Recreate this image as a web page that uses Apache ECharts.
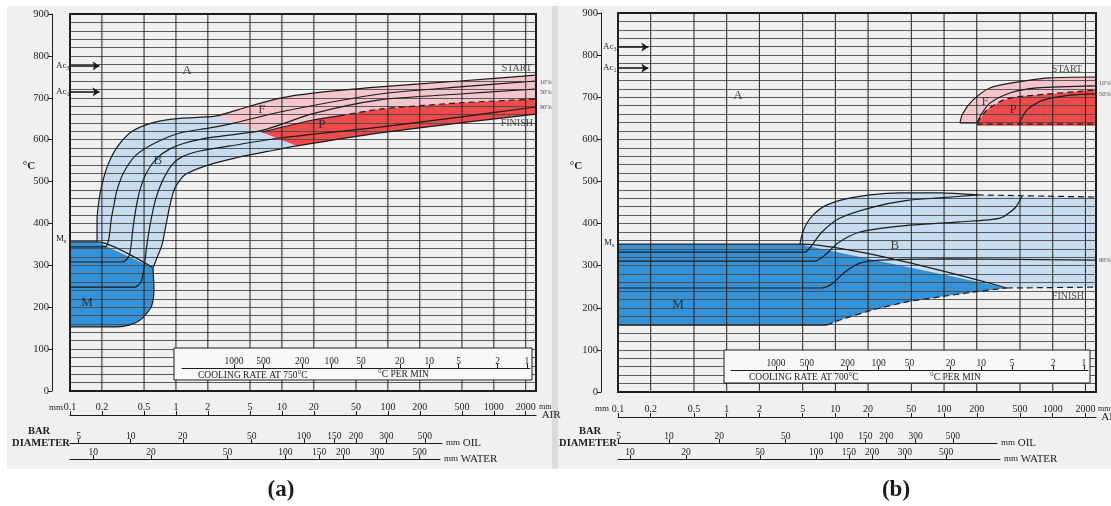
<!DOCTYPE html>
<html><head><meta charset="utf-8">
<script src="https://cdn.jsdelivr.net/npm/echarts@6/dist/echarts.min.js"></script>
<style>html,body{margin:0;padding:0;background:#fff}#c{width:1111px;height:506px}</style>
</head><body><div id="c"></div>
<script>
// ---------------- DATA ----------------
// bar diameter (mm, air-cooled equivalent) on x, temperature (°C) on y
const airTicks   = [0.1,0.2,0.5,1,2,5,10,20,50,100,200,500,1000,2000];
const gridXVals  = [0.2,0.5,1,2,5,10,20,50,100,200,500,1000,2000];
const oilTicks   = [5,10,20,50,100,150,200,300,500];
const waterTicks = [10,20,50,100,150,200,300,500];
const coolTicks  = [1000,500,200,100,50,20,10,5,2,1];

// ----- panel (a) -----
const acA = [776, 714];                 // Ac3, Ac1
const startA  = [[0.18,356],[0.18,408],[0.188,456],[0.2,492],[0.228,540],[0.284,585],[0.393,621],[0.634,642],[1.09,651],[2.33,656],[4.68,678],[9.57,699],[19.6,711],[84,726],[477,740],[2500,754]];
const tenA    = [[0.1,344],[0.215,344],[0.232,362],[0.245,410],[0.26,444],[0.278,480],[0.323,523],[0.42,563],[0.634,592],[1.09,616],[2.09,628],[3.6,640],[9.57,666],[84,709],[477,726],[2500,740]];
const fiftyA  = [[0.1,308],[0.315,308],[0.36,322],[0.376,345],[0.393,389],[0.42,437],[0.457,480],[0.532,523],[0.662,556],[0.878,578],[1.216,592],[2.23,606],[6.47,622],[19.6,662],[84,695],[477,709],[2500,721]];
const ninetyA = [[0.1,248],[0.41,248],[0.468,260],[0.499,294],[0.532,349],[0.581,408],[0.648,461],[0.754,504],[0.917,540],[1.139,559],[1.68,573],[3.23,585],[9.57,604],[84,630],[477,654],[2500,678]];
const finishA = [[0.607,294],[0.662,318],[0.738,349],[0.805,396],[0.878,444],[0.979,485],[1.216,516],[1.88,537],[3.6,556],[7.7,573],[13.9,585],[84,616],[477,640],[2500,661]];
const msLineA = [[0.1,356],[0.18,356],[0.607,294]];
const mEdgeA  = [[0.607,294],[0.62,241],[0.594,205],[0.532,186],[0.457,169],[0.368,158],[0.278,153],[0.1,153]];
const fpSolidA = [[6.47,618],[19.6,647],[35,657]];
const fpDashA  = [[35,657],[84,673],[477,688],[2500,697]];
const bAreaA = [[0.18,356],[0.18,408],[0.188,456],[0.2,492],[0.228,540],[0.284,585],[0.393,621],[0.634,642],[1.09,651],[2.33,656],[6.47,618],[13.9,585],[7.7,573],[3.6,556],[1.88,537],[1.216,516],[0.979,485],[0.878,444],[0.805,396],[0.738,349],[0.662,318],[0.607,294]];
const mAreaA = [[0.1,356],[0.18,356],[0.607,294],[0.62,241],[0.594,205],[0.532,186],[0.457,169],[0.368,158],[0.278,153],[0.1,153]];
const fAreaA = [[2.33,656],[4.68,678],[9.57,699],[19.6,711],[84,726],[477,740],[2500,754],[2500,697],[477,688],[84,673],[19.6,647],[6.47,618]];
const pAreaA = [[6.47,618],[19.6,647],[84,673],[477,688],[2500,697],[2500,661],[477,640],[84,616],[13.9,585]];
const bigTextA = [['A',1.27,766],['B',0.676,551],['M',0.145,210],['F',6.47,671],['P',23.8,635]];
const endTextA = [['START',1648,769],['FINISH',1648,640]];
const pctTextA = [['10%',2716,738],['50%',2716,714],['90%',2716,678]];

// ----- panel (b) -----
const acB = [819, 769];
const startB   = [[4.72,351],[4.93,373],[5.36,397],[6.22,420],[8.02,442],[12.26,458],[20.8,468],[39.3,473],[91.7,473],[205,468]];
const topDashB = [[205,468],[2500,463]];
const tenB     = [[0.1,332],[5.25,332],[6.09,349],[7.53,380],[11.03,413],[22.2,439],[45.6,455],[91.7,461],[205,468]];
const fiftyB   = [[0.1,311],[6.49,311],[8.02,325],[10.56,354],[16.8,380],[39.3,394],[140,404],[327,413],[449,437],[521,465]];
const ninetyB  = [[0.1,247],[7.53,247],[9.31,257],[12.26,285],[16.8,306],[25.7,313],[113,316],[2500,313]];
const msLineB  = [[0.1,351],[4.72,351],[379,247]];
const mBotB    = [[0.1,159],[8.37,159]];
const mBotDashB = [[8.37,159],[11.03,171],[22.2,195],[45.6,214],[91.7,226],[184,237],[379,247]];
const finishDashB = [[379,247],[2500,249]];
const startFB  = [[140,639],[149,662],[184,693],[264,722],[469,736],[942,746],[2500,748]];
const fBotB    = [[140,639],[201,639]];
const tenFB    = [[201,639],[223,662],[264,686],[404,710],[716,722],[2500,727]];
const fpDashB  = [[201,639],[248,670],[348,693],[469,701],[2500,717]];
const pLineB   = [[489,636],[579,670],[813,693],[1440,705],[2500,708]];
const pBotDashB = [[201,636],[2500,636]];
const bAreaB = [[4.72,351],[4.93,373],[5.36,397],[6.22,420],[8.02,442],[12.26,458],[20.8,468],[39.3,473],[91.7,473],[205,468],[2500,463],[2500,249],[379,247]];
const mAreaB = [[0.1,351],[4.72,351],[379,247],[184,237],[91.7,226],[45.6,214],[22.2,195],[11.03,171],[8.37,159],[0.1,159]];
const fAreaB = [[140,639],[149,662],[184,693],[264,722],[469,736],[942,746],[2500,748],[2500,717],[469,701],[348,693],[248,670],[201,639]];
const pAreaB = [[201,639],[248,670],[348,693],[469,701],[2500,717],[2500,632],[201,632]];
const bigTextB = [['A',1.27,703],['B',35.3,347],['M',0.356,207],['F',238,689],['P',431,670]];
const endTextB = [['START',1351,767],['FINISH',1380,228]];
const pctTextB = [['10%',2661,734],['50%',2661,708],['90%',2661,313]];

// ---------------- STYLE / BUILDERS ----------------
const SERIF = "'Liberation Serif','DejaVu Serif',serif";
const INK = '#1c1c1c';
const C_B = '#c7ddef', C_M = '#3592d6', C_F = '#f4c5cb', C_P = '#ef4a4c';

function poly(points, fill, xi, yi) {
  return {type:'custom', xAxisIndex:xi, yAxisIndex:yi, z:1, silent:true, data:[[1,100]],
    renderItem:(p, api) => ({type:'polygon', shape:{points: points.map(q => api.coord(q))}, style:{fill:fill}})};
}
function curve(points, xi, yi, dashed, smooth) {
  return {type:'line', xAxisIndex:xi, yAxisIndex:yi, z:5, silent:true, data:points, showSymbol:false, symbol:'none',
    smooth: smooth === undefined ? 0.25 : smooth,
    lineStyle:{color:INK, width:1.2, type: dashed ? [6,4] : 'solid'}};
}
function vLines(vals, xi, yi) {
  return {type:'custom', xAxisIndex:xi, yAxisIndex:yi, z:3, silent:true, data: vals.map(v => [v, 0]),
    renderItem:(p, api) => { const v = api.value(0); const a = api.coord([v,0]), b = api.coord([v,900]);
      return {type:'line', shape:{x1:a[0],y1:a[1],x2:b[0],y2:b[1]}, style:{stroke:'#222', lineWidth:1}}; }};
}
function texts(items, xi, yi, size, extra) {
  return {type:'scatter', xAxisIndex:xi, yAxisIndex:yi, z:6, silent:true, clip:false, symbolSize:1,
    itemStyle:{color:'rgba(0,0,0,0)'},
    data: items.map(t => ({value:[t[1], t[2]], label:{formatter:t[0]}})),
    label:Object.assign({show:true, position:'inside', color:INK, fontFamily:SERIF, fontSize:size}, extra||{})};
}
function arrows(vals, xi, yi, x0, x1) {
  return {type:'line', xAxisIndex:xi, yAxisIndex:yi, data:[], silent:true,
    markLine:{silent:true, symbol:['none','arrow'], symbolSize:7, label:{show:false},
      lineStyle:{color:INK, width:1.6, type:'solid'},
      data: vals.map(v => [{coord:[x0, v]}, {coord:[x1, v]}])}};
}
function scaleAxis(gi, min, max, ticks, extra) {
  return Object.assign({type:'log', gridIndex:gi, min:min, max:max, position:'bottom',
    axisLine:{show:true, onZero:false, lineStyle:{color:INK, width:1}},
    axisTick:{show:true, inside:true, length:4, customValues:ticks, lineStyle:{color:INK}},
    axisLabel:{show:true, inside:true, margin:2, customValues:ticks, color:INK, fontFamily:SERIF, fontSize:9.5, formatter: v => String(v)},
    splitLine:{show:false}, minorTick:{show:false}, minorSplitLine:{show:false}}, extra || {});
}
function nameStyle() {
  return {color:INK, fontFamily:SERIF, fontSize:11,
    rich:{m:{fontSize:9, fontFamily:SERIF, color:INK}, o:{fontSize:11, fontFamily:SERIF, color:INK}}};
}
function labelY(gi, off) {
  return {type:'value', gridIndex:gi, min:0, max:900, interval:100, position:'left', offset:off,
    axisLine:{show:true, onZero:false, lineStyle:{color:INK, width:1}},
    axisTick:{show:true, length:4, lineStyle:{color:INK}},
    axisLabel:{color:INK, fontFamily:SERIF, fontSize:10.5, margin:3}, splitLine:{show:false}};
}
function gridY(gi) {
  return {type:'value', gridIndex:gi, min:0, max:900, interval:20, position:'right', z:3,
    axisLine:{show:false}, axisTick:{show:false}, axisLabel:{show:false},
    splitLine:{show:true, lineStyle:{color:'#4a4a4a', width:0.9}}};
}
function hiddenY(gi) { return {type:'value', gridIndex:gi, min:0, max:1, show:false}; }
function txt(x, y, text, o) {
  o = o || {};
  const al = o.align || 'center';
  const st = {text:text, fill:INK, fontFamily:SERIF, fontSize:o.size || 10, fontWeight:o.weight || 'normal',
    align:al, textAlign:al, verticalAlign:'middle', textVerticalAlign:'middle'};
  if (o.rich) st.rich = o.rich;
  return {type:'text', x:x, y:y, z:o.z || 20, silent:true, style:st};
}
const subRich = {a:{fontSize:9, fontFamily:SERIF, fill:INK, color:INK},
                 s:{fontSize:6, fontFamily:SERIF, fill:INK, color:INK, padding:[5,0,0,0]}};

function panelSeries(xi, yi, d) {
  const s = [];
  d.areas.forEach(a => s.push(poly(a[0], a[1], xi, yi)));
  s.push(vLines(gridXVals, xi, yi));
  d.solid.forEach(l => s.push(curve(l, xi, yi, false)));
  d.dashed.forEach(l => s.push(curve(l, xi, yi, true, 0.2)));
  s.push(arrows(d.ac, xi, yi, 0.1, 0.19));
  s.push(texts(d.big, xi, yi, 13));
  s.push(texts(d.end, xi, yi, 10));
  s.push(texts(d.pct, xi, yi, 6.5, {align:'left'}));
  return s;
}

const series = [].concat(
  panelSeries(0, 0, {
    areas:[[bAreaA, C_B],[mAreaA, C_M],[fAreaA, C_F],[pAreaA, C_P]],
    solid:[startA, tenA, fiftyA, ninetyA, finishA, msLineA, mEdgeA, fpSolidA],
    dashed:[fpDashA], ac:acA, big:bigTextA, end:endTextA, pct:pctTextA}),
  panelSeries(4, 5, {
    areas:[[bAreaB, C_B],[mAreaB, C_M],[fAreaB, C_F],[pAreaB, C_P]],
    solid:[startB, tenB, fiftyB, ninetyB, msLineB, mBotB, startFB, fBotB, tenFB, pLineB],
    dashed:[topDashB, mBotDashB, finishDashB, fpDashB, pBotDashB], ac:acB, big:bigTextB, end:endTextB, pct:pctTextB})
);

const mainGrid = {show:true, borderColor:INK, borderWidth:2, backgroundColor:'transparent', z:4, outerBoundsMode:'none', containLabel:false};
const lineGrid = {show:false, outerBoundsMode:'none', containLabel:false};

const option = {
  animation:false,
  backgroundColor:'#f0f0f0',
  grid:[
    Object.assign({left:70, top:14, width:466, height:377}, mainGrid),
    Object.assign({left:70, top:442, width:372, height:1}, lineGrid),
    Object.assign({left:70, top:458, width:370, height:1}, lineGrid),
    Object.assign({left:182, top:367, width:348, height:1}, lineGrid),
    Object.assign({left:618, top:13, width:478, height:379}, mainGrid),
    Object.assign({left:618, top:442, width:379, height:1}, lineGrid),
    Object.assign({left:618, top:458, width:382, height:1}, lineGrid),
    Object.assign({left:731, top:369, width:357, height:1}, lineGrid)
  ],
  xAxis:[
    scaleAxis(0, 0.1, 2500, airTicks, {offset:24, name:'AIR', nameLocation:'end', nameGap:2, nameTextStyle:nameStyle(), axisLabel:{show:true, inside:true, margin:3, customValues:airTicks, color:INK, fontFamily:SERIF, fontSize:10, formatter:v=>String(v)}}),
    scaleAxis(1, 4.46, 628, oilTicks, {name:'{m|mm} {o|OIL}', nameLocation:'end', nameGap:4, nameTextStyle:nameStyle()}),
    scaleAxis(2, 7.57, 638, waterTicks, {name:'{m|mm} {o|WATER}', nameLocation:'end', nameGap:4, nameTextStyle:nameStyle()}),
    scaleAxis(3, 0.93, 3404, coolTicks, {inverse:true, z:12}),
    scaleAxis(4, 0.1, 2500, airTicks, {offset:25, name:'AIR', nameLocation:'end', nameGap:2, nameTextStyle:nameStyle(), axisLabel:{show:true, inside:true, margin:3, customValues:airTicks, color:INK, fontFamily:SERIF, fontSize:10, formatter:v=>String(v)}}),
    scaleAxis(5, 4.95, 920, oilTicks, {name:'{m|mm} {o|OIL}', nameLocation:'end', nameGap:4, nameTextStyle:nameStyle()}),
    scaleAxis(6, 8.62, 975, waterTicks, {name:'{m|mm} {o|WATER}', nameLocation:'end', nameGap:4, nameTextStyle:nameStyle()}),
    scaleAxis(7, 0.914, 2740, coolTicks, {inverse:true, z:12})
  ],
  yAxis:[
    labelY(0, 18), gridY(0), hiddenY(1), hiddenY(2), hiddenY(3),
    labelY(4, 17), gridY(4), hiddenY(5), hiddenY(6), hiddenY(7)
  ],
  graphic:[
    {type:'rect', z:0, silent:true, shape:{x:0, y:0, width:1111, height:6}, style:{fill:'#ffffff'}},
    {type:'rect', z:0, silent:true, shape:{x:0, y:0, width:7, height:506}, style:{fill:'#ffffff'}},
    {type:'rect', z:0, silent:true, shape:{x:0, y:469, width:1111, height:37}, style:{fill:'#ffffff'}},
    {type:'rect', z:0, silent:true, shape:{x:552, y:6, width:6, height:463}, style:{fill:'#dcdcdc'}},
    // cooling-rate boxes
    {type:'rect', z:10, silent:true, shape:{x:174, y:348, width:358, height:32}, style:{fill:'#f8f8f8', stroke:INK, lineWidth:1}},
    {type:'rect', z:10, silent:true, shape:{x:724, y:350, width:366, height:33}, style:{fill:'#f8f8f8', stroke:INK, lineWidth:1}},
    txt(198, 375, 'COOLING RATE AT 750°C', {align:'left', size:9.5, z:13}),
    txt(378, 374, '°C PER MIN', {align:'left', size:9.5, z:13}),
    txt(749, 377, 'COOLING RATE AT 700°C', {align:'left', size:9.5, z:13}),
    txt(930, 377, '°C PER MIN', {align:'left', size:9.5, z:13}),
    // axis captions
    txt(29, 166, '°C', {size:11, weight:'bold'}),
    txt(576, 166, '°C', {size:11, weight:'bold'}),
    txt(56, 66, '{a|Ac}{s|3}', {align:'left', rich:subRich}),
    txt(56, 92, '{a|Ac}{s|1}', {align:'left', rich:subRich}),
    txt(56, 239, '{a|M}{s|s}', {align:'left', rich:subRich}),
    txt(603, 47, '{a|Ac}{s|3}', {align:'left', rich:subRich}),
    txt(603, 68, '{a|Ac}{s|1}', {align:'left', rich:subRich}),
    txt(604, 243, '{a|M}{s|s}', {align:'left', rich:subRich}),
    txt(63, 408, 'mm', {align:'right', size:9}),
    txt(539, 407, 'mm', {align:'left', size:8}),
    txt(609, 409, 'mm', {align:'right', size:9}),
    txt(1098, 409, 'mm', {align:'left', size:8}),
    txt(39, 431, 'BAR', {size:10.5, weight:'bold'}),
    txt(41, 443, 'DIAMETER', {size:10.5, weight:'bold'}),
    txt(590, 431, 'BAR', {size:10.5, weight:'bold'}),
    txt(588, 443, 'DIAMETER', {size:10.5, weight:'bold'}),
    txt(281, 490, '(a)', {size:23, weight:'bold'}),
    txt(896, 490, '(b)', {size:23, weight:'bold'})
  ],
  series: series
};
const chart = echarts.init(document.getElementById('c'), null, {renderer:'canvas', width:1111, height:506});
chart.setOption(option);
</script></body></html>
